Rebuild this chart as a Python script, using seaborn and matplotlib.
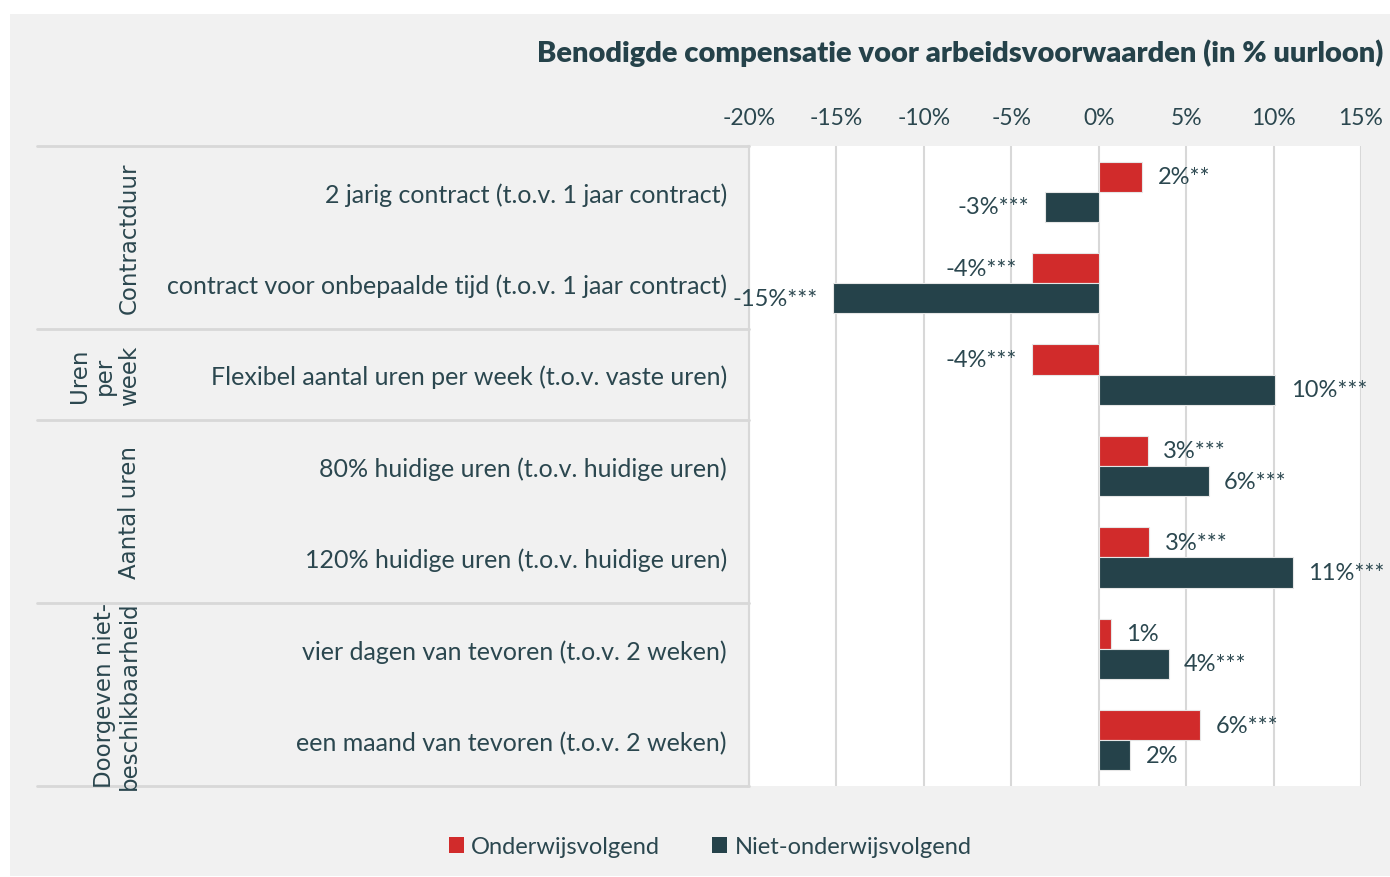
import matplotlib
matplotlib.use("Agg")
import matplotlib.pyplot as plt
from matplotlib.patches import Rectangle, Patch
from matplotlib.lines import Line2D
import seaborn as sns
import pandas as pd

# =====================================================
# DATA
# =====================================================

categories = [
    "2 jarig contract (t.o.v. 1 jaar contract)",
    "contract voor onbepaalde tijd (t.o.v. 1 jaar contract)",
    "Flexibel aantal uren per week (t.o.v. vaste uren)",
    "80% huidige uren (t.o.v. huidige uren)",
    "120% huidige uren (t.o.v. huidige uren)",
    "vier dagen van tevoren (t.o.v. 2 weken)",
    "een maand van tevoren (t.o.v. 2 weken)",
]

groups = ["Contractduur", "Uren\nper\nweek", "Aantal uren", "Doorgeven niet-\nbeschikbaarheid"]
group_sizes = [2, 1, 2, 2]

series = ["Onderwijsvolgend", "Niet-onderwijsvolgend"]

onderwijs_values = [2.5, -3.8, -3.8, 2.8, 2.9, 0.7, 5.8]
niet_onderwijs_values = [-3.1, -15.2, 10.1, 6.3, 11.1, 4.0, 1.8]

onderwijs_labels = ["2%**", "-4%***", "-4%***", "3%***", "3%***", "1%", "6%***"]
niet_onderwijs_labels = ["-3%***", "-15%***", "10%***", "6%***", "11%***", "4%***", "2%"]

x_ticks = [-20, -15, -10, -5, 0, 5, 10, 15]

title = "Benodigde compensatie voor arbeidsvoorwaarden (in % uurloon)"

# =====================================================
# STYLE
# =====================================================

RED = "#d12b2b"
DARK = "#25424a"
TEXT = "#2b474f"
PANEL = "#f1f1f1"
LINE = "#d8d8d8"

sns.set_style("white")
plt.rcParams["font.family"] = ["Lato", "DejaVu Sans"]

df = pd.DataFrame({
    "categorie": categories * 2,
    "waarde": onderwijs_values + niet_onderwijs_values,
    "groep": [series[0]] * len(categories) + [series[1]] * len(categories),
})

fig = plt.figure(figsize=(13.9, 8.78), dpi=100, facecolor="white")
fig.patches.append(Rectangle((10 / 1390, 1 / 878), 1380 / 1390, 862 / 878,
                             transform=fig.transFigure, facecolor=PANEL,
                             edgecolor="none", zorder=-10))

ax = fig.add_axes([749 / 1390, 91 / 878, 612 / 1390, 640 / 878])
ax.set_facecolor("white")

sns.barplot(
    data=df,
    x="waarde",
    y="categorie",
    hue="groep",
    hue_order=series,
    palette=[RED, DARK],
    saturation=1,
    orient="h",
    width=0.66,
    edgecolor="#e6e6e6",
    linewidth=0.8,
    legend=False,
    ax=ax,
)

ax.set_xlim(-20, 15)
ax.set_xticks(x_ticks)
ax.set_xticklabels([f"{t}%" for t in x_ticks])
ax.xaxis.tick_top()
ax.tick_params(axis="x", length=0, pad=13, labelsize=16.5, labelcolor=TEXT)
ax.tick_params(axis="y", length=0, pad=16, labelsize=18, labelcolor=TEXT)
ax.set_xlabel("")
ax.set_ylabel("")
ax.grid(axis="x", color=LINE, linewidth=1.5)
ax.set_axisbelow(True)
for side in ["top", "right", "bottom"]:
    ax.spines[side].set_visible(False)
ax.spines["left"].set_color(LINE)
ax.spines["left"].set_linewidth(1.5)

# value labels
for container, labels in zip(ax.containers, [onderwijs_labels, niet_onderwijs_labels]):
    for bar, lab in zip(container, labels):
        w = bar.get_width()
        yc = bar.get_y() + bar.get_height() / 2
        if w >= 0:
            ax.annotate(lab, (w, yc), xytext=(11, 0), textcoords="offset points",
                        ha="left", va="center", fontsize=17, color=TEXT)
        else:
            ax.annotate(lab, (w, yc), xytext=(-11, 0), textcoords="offset points",
                        ha="right", va="center", fontsize=17, color=TEXT)

# table lines and group labels on the left
trans = ax.get_yaxis_transform()
left_x = (37 - 749) / 612
bounds = [-0.5]
for size in group_sizes:
    bounds.append(bounds[-1] + size)
for b in bounds:
    ax.add_line(Line2D([left_x, 0], [b, b], transform=trans, color=LINE,
                       linewidth=2, clip_on=False))
for name, top, bottom in zip(groups, bounds[:-1], bounds[1:]):
    ax.text((141 - 749) / 612, (top + bottom) / 2, name, transform=trans,
            rotation=90, ha="right", va="center", multialignment="center",
            fontsize=16.5, color=TEXT, linespacing=1.1,
            family=["DejaVu Sans"])

# title
fig.text(1383 / 1390, 1 - 53 / 878, title, ha="right", va="center",
         fontsize=21, fontweight="heavy", color=DARK)

# legend
handles = [Patch(facecolor=RED, edgecolor="none"), Patch(facecolor=DARK, edgecolor="none")]
fig.legend(handles, series, loc="center", bbox_to_anchor=(710 / 1390, 1 - 848 / 878),
           ncol=2, frameon=False, fontsize=17, handlelength=0.65, handleheight=0.65,
           handletextpad=0.3, columnspacing=2.2, labelcolor=TEXT)

fig.savefig("out.png", dpi=100, facecolor="white")
